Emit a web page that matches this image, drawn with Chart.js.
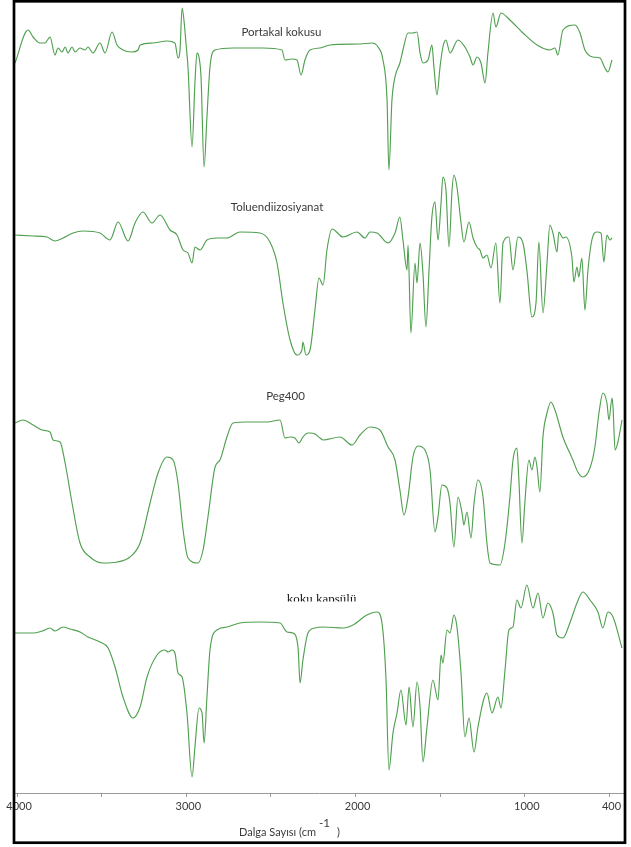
<!DOCTYPE html>
<html>
<head>
<meta charset="utf-8">
<script src="https://cdn.jsdelivr.net/npm/chart.js@4/dist/chart.umd.min.js"></script>
<style>
  html, body { margin: 0; padding: 0; background: #ffffff; }
  canvas { display: block; }
</style>
</head>
<body>
<canvas id="c" width="631" height="847"></canvas>
<script>
// ---------- DATA ----------
const seriesNames = ['Portakal kokusu', 'Toluendiizosiyanat', 'Peg400', 'koku kapsülü'];
const axisTitle = 'Dalga Sayısı (cm';
const axisTitleSup = '-1';
const tickValues = [4000, 3500, 3000, 2500, 2000, 1500, 1000, 500];
const tickLabels = ['4000', '', '3000', '', '2000', '', '1000', '400'];

// Portakal kokusu  (wavenumber, stacked transmittance)
const portakalWn = [4012,3935,3905,3864,3835,3805,3776,3758,3734,3716,3699,3675,3657,3628,3598,3581,3551,3510,3480,3439,3409,3374,3321,3285,3273,3197,3114,3067,3049,3037,3025,3014,3002,2990,2966,2949,2937,2925,2913,2895,2878,2860,2830,2724,2547,2435,2417,2376,2346,2322,2299,2269,2210,2151,1974,1903,1867,1838,1814,1803,1785,1767,1738,1720,1690,1661,1637,1619,1602,1572,1549,1537,1519,1501,1484,1466,1442,1395,1354,1324,1306,1283,1259,1235,1218,1188,1171,1141,1088,1011,928,852,822,805,775,704,674,645,598,556,527,509,485];
const portakalT  = [730,763,756,750,750,756,738,745,741,746,740,746,741,745,743,746,740,750,740,761,748,743,741,743,748,750,752,750,735,743,785,773,750,726,646,710,740,736,716,626,676,726,743,745,745,743,733,734,733,718,733,743,745,748,749,750,746,733,693,623,693,716,730,743,760,760,761,740,730,733,748,726,698,726,746,753,740,753,746,736,728,736,730,710,740,780,766,780,773,760,748,743,745,738,763,768,760,743,736,735,725,721,733];

// Toluendiizosiyanat
const tdiWn = [4012,3905,3823,3776,3728,3669,3610,3510,3451,3403,3344,3303,3256,3203,3155,3096,3055,3019,2990,2966,2949,2919,2878,2819,2760,2683,2565,2506,2464,2429,2387,2346,2317,2311,2293,2269,2240,2216,2192,2169,2139,2074,1992,1944,1915,1873,1808,1767,1738,1720,1696,1690,1673,1649,1637,1619,1602,1584,1566,1549,1531,1513,1495,1484,1466,1448,1430,1419,1401,1377,1360,1330,1306,1283,1265,1247,1224,1200,1171,1147,1129,1094,1070,1041,1011,988,958,934,917,893,869,852,834,810,799,775,758,722,710,692,681,663,645,627,604,574,550,533,515,497,485];
const tdiT  = [558,557,556,552,555,560,562,560,553,571,552,570,581,570,578,563,558,543,540,530,546,543,553,555,555,561,560,551,530,490,453,438,443,451,438,443,483,515,508,543,564,556,561,555,561,560,550,560,576,553,523,548,460,530,510,550,520,466,523,576,591,553,590,616,603,546,603,618,606,570,551,571,555,546,543,535,538,525,550,490,550,556,523,556,550,523,476,490,551,480,530,568,560,541,561,555,556,536,511,526,516,535,483,523,553,561,560,531,558,553,555];

// Peg400
const pegWn = [4012,3965,3905,3852,3805,3787,3746,3716,3675,3628,3569,3492,3409,3333,3273,3214,3167,3114,3078,3049,3019,2990,2931,2901,2872,2830,2801,2760,2724,2641,2523,2446,2417,2387,2358,2334,2311,2281,2269,2240,2210,2192,2092,2021,1974,1915,1856,1808,1767,1738,1714,1690,1661,1631,1590,1560,1531,1513,1490,1460,1442,1419,1395,1371,1360,1342,1318,1300,1277,1247,1224,1206,1147,1117,1088,1070,1047,1035,1017,1000,976,958,940,928,911,893,869,846,822,775,716,687,657,615,586,562,539,515,503,485,479,467,450,426];
const pegT  = [370,373,368,363,361,353,351,330,290,250,236,230,231,236,250,290,320,336,333,310,263,235,230,243,276,326,333,356,370,371,371,373,355,356,355,350,356,360,360,359,355,353,356,348,358,366,363,346,333,303,278,296,336,347,343,323,261,276,308,305,290,246,296,280,268,281,255,290,313,296,250,230,228,250,296,333,345,313,250,290,333,323,336,326,301,356,380,391,383,356,333,321,316,325,346,380,400,390,373,395,386,343,351,373];

// koku kapsülü
const kapsulWn = [4012,3905,3852,3805,3776,3728,3687,3628,3581,3510,3462,3421,3374,3315,3273,3232,3173,3126,3108,3084,3067,3049,3025,2996,2966,2949,2925,2907,2895,2878,2860,2819,2760,2683,2565,2446,2405,2370,2340,2328,2311,2281,2240,2192,2074,2015,1933,1873,1844,1820,1803,1779,1755,1732,1702,1684,1661,1637,1619,1602,1578,1543,1513,1495,1484,1460,1442,1419,1401,1377,1354,1330,1300,1277,1224,1194,1159,1141,1117,1094,1070,1047,1023,988,952,922,893,864,834,810,775,734,692,657,615,568,539,509,479,426];
const kapsulT  = [160,160,162,165,162,166,164,161,156,151,145,126,96,75,86,116,138,143,141,143,140,120,116,80,16,46,85,80,50,96,143,163,166,170,171,170,161,160,146,110,133,160,165,166,165,168,178,181,170,113,23,60,80,103,68,106,66,111,86,31,66,113,93,138,130,163,160,178,166,120,56,75,41,66,100,80,96,85,123,163,166,193,185,208,185,200,175,190,180,158,155,170,190,201,193,181,165,181,176,145];

// Annotation anchors (in data units: wavenumber, stacked value)
const titleAnchors = [[2438, 761], [2464, 586], [2414, 397], [2201, 190]];

// ---------- CHART ----------
const seriesWn = [portakalWn, tdiWn, pegWn, kapsulWn];
const seriesT = [portakalT, tdiT, pegT, kapsulT];
const lineColor = 'rgb(80,160,80)';

const datasets = seriesNames.map((name, i) => ({
  label: name,
  data: seriesWn[i].map((w, k) => ({ x: w, y: seriesT[i][k] })),
  borderColor: lineColor,
  borderWidth: 1.15,
  pointRadius: 0,
  fill: false,
  cubicInterpolationMode: 'monotone'
}));

const decor = {
  id: 'decor',
  beforeDraw(chart) {
    const ctx = chart.ctx;
    ctx.save();
    ctx.fillStyle = '#ffffff';
    ctx.fillRect(0, 0, chart.width, chart.height);
    ctx.restore();
  },
  afterDraw(chart) {
    const ctx = chart.ctx;
    const xs = chart.scales.x, ys = chart.scales.y;
    ctx.save();
    // series titles
    ctx.textAlign = 'center';
    for (let i = 0; i < 3; i++) {
      ctx.font = '11.5px Lato, "Open Sans", sans-serif';
      ctx.fillStyle = '#3a3a3a';
      ctx.textBaseline = 'middle';
      ctx.fillText(seriesNames[i], xs.getPixelForValue(titleAnchors[i][0]), ys.getPixelForValue(titleAnchors[i][1]));
    }
    // last title: serif, clipped at the bottom like the reference
    const kx = xs.getPixelForValue(titleAnchors[3][0]);
    const ky = ys.getPixelForValue(titleAnchors[3][1]);
    ctx.save();
    ctx.beginPath();
    ctx.rect(0, 0, chart.width, ky - 1.5);
    ctx.clip();
    ctx.font = '13px "Liberation Serif", "DejaVu Serif", serif';
    ctx.fillStyle = '#111111';
    ctx.textBaseline = 'alphabetic';
    ctx.fillText(seriesNames[3], kx, ky);
    ctx.restore();

    // axis title with superscript
    const fMain = '11px Lato, "Open Sans", sans-serif';
    const fSup = '11.5px Lato, "Open Sans", sans-serif';
    ctx.fillStyle = '#3a3a3a';
    ctx.textAlign = 'left';
    ctx.textBaseline = 'middle';
    ctx.font = fMain;
    const w1 = ctx.measureText(axisTitle).width;
    const w3 = ctx.measureText(')').width;
    ctx.font = fSup;
    const w2 = ctx.measureText(axisTitleSup).width;
    let tx = 239;
    const ty = 832;
    ctx.font = fMain;
    ctx.fillText(axisTitle, tx, ty);
    tx += w1 + 3;
    ctx.font = fSup;
    ctx.fillText(axisTitleSup, tx, ty - 9);
    tx += w2 + 7;
    ctx.font = fMain;
    ctx.fillText(')', tx, ty);

    // frame
    ctx.strokeStyle = '#000000';
    ctx.lineWidth = 2.7;
    ctx.strokeRect(14, 1.3, 611, 841.4);
    ctx.restore();
  }
};

new Chart(document.getElementById('c'), {
  type: 'line',
  data: { datasets },
  options: {
    responsive: false,
    animation: false,
    devicePixelRatio: 1,
    layout: { autoPadding: false, padding: { left: 15, right: 8, top: 3, bottom: 0 } },
    plugins: { legend: { display: false }, tooltip: { enabled: false } },
    scales: {
      x: {
        type: 'linear',
        reverse: true,
        min: 420,
        max: 4012,
        afterBuildTicks: (axis) => { axis.ticks = tickValues.map(v => ({ value: v })); },
        afterFit: (scale) => { scale.height = 54; },
        ticks: {
          autoSkip: false,
          maxRotation: 0,
          minRotation: 0,
          padding: 3,
          labelOffset: 2,
          color: '#3a3a3a',
          font: { family: 'Lato, "Open Sans", sans-serif', size: 11 },
          callback: (value, index) => tickLabels[index]
        },
        grid: { display: true, drawOnChartArea: false, drawTicks: true, tickLength: 4, color: '#9a9a9a' },
        border: { display: true, color: '#9a9a9a', width: 1 }
      },
      y: { display: false, min: 0, max: 790 }
    }
  },
  plugins: [decor]
});
</script>
</body>
</html>
